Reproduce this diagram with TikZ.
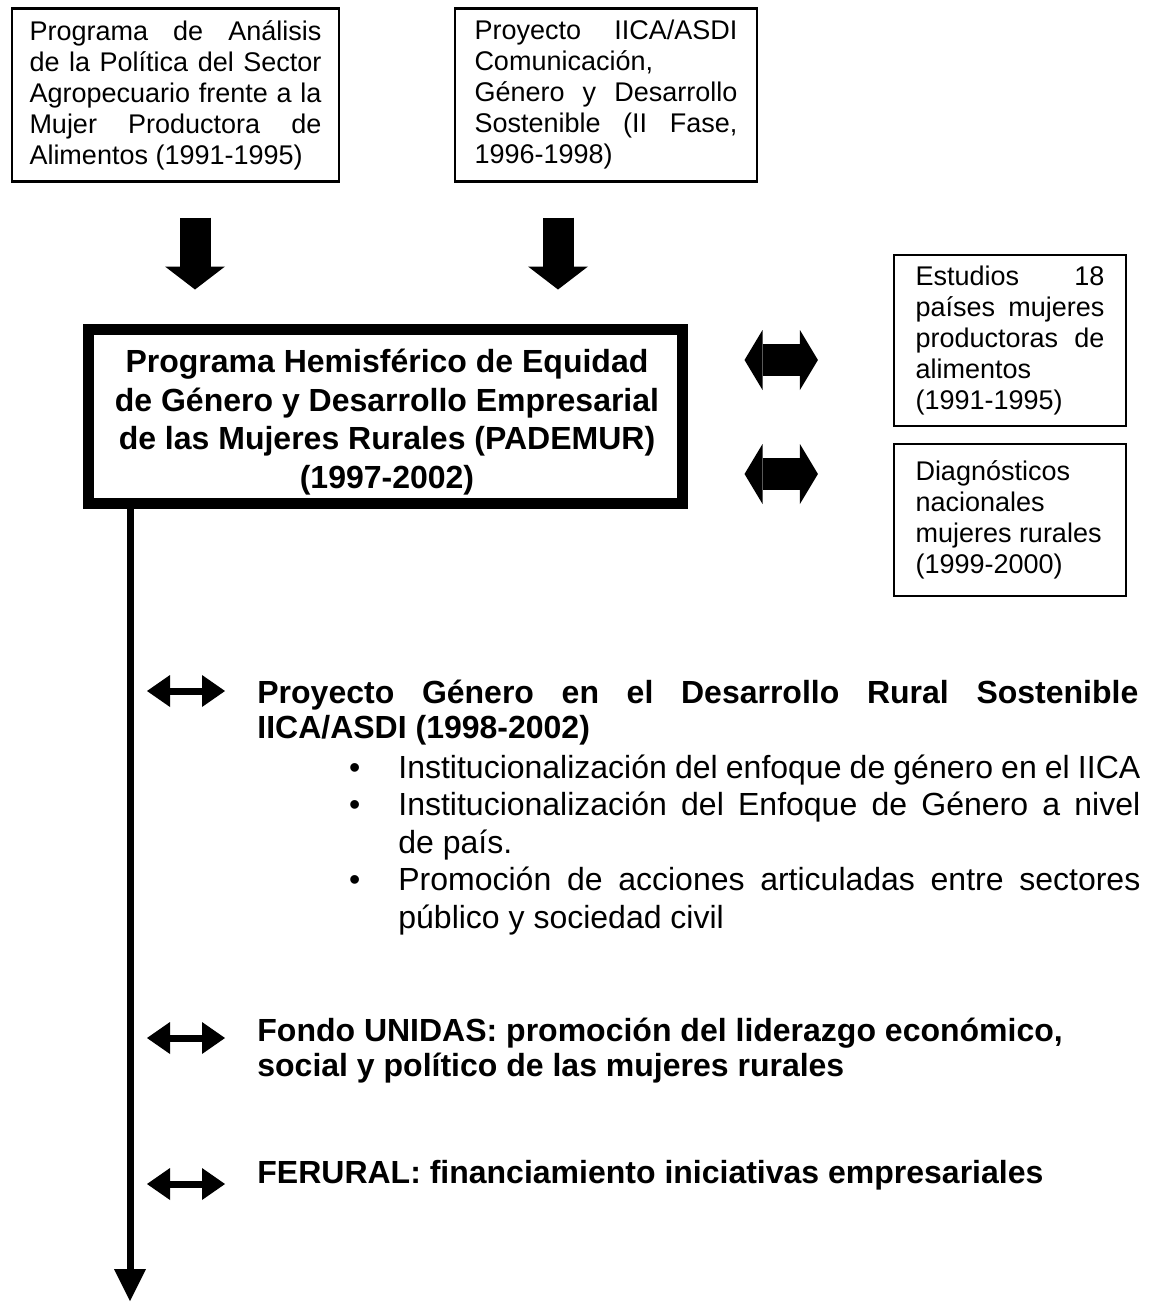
\documentclass[tikz,border=0pt]{standalone}
\usepackage{fontspec}
\setmainfont{Liberation Sans}
\usetikzlibrary{arrows.meta}

\begin{document}
\begin{tikzpicture}[x=0.5pt,y=0.5pt,yscale=-1,
		topbox/.style={draw, line width=1.1pt, inner sep=0pt, align=justify, font=\fontsize{13.5}{15.5}\selectfont},
		framebox/.style={draw, line width=5.5pt, inner sep=0pt, minimum width=297pt, minimum height=87pt},
		titletext/.style={inner sep=0pt, align=center, font=\fontsize{16}{19.25}\selectfont\bfseries},
		itemtext/.style={anchor=base west, inner sep=0pt, font=\fontsize{16}{17.5}\selectfont\bfseries},
		fatdown/.style={line width=15.5pt, -{Triangle[width=30pt,length=11.5pt,line width=0pt]}},
		fatboth/.style={line width=16pt, {Triangle[width=30pt,length=9pt,line width=0pt]}-{Triangle[width=30pt,length=9pt,line width=0pt]}},
		thinboth/.style={line width=3.5pt, {Triangle[width=16pt,length=11.5pt,line width=0pt]}-{Triangle[width=16pt,length=11.5pt,line width=0pt]}},
		trunk/.style={line width=3.5pt, -{Triangle[width=16pt,length=16pt,line width=0pt]}}]
		\useasboundingbox (0,0) rectangle (1153,1302);

		% The two boxes on top
		\node[topbox, minimum width=163.5pt, minimum height=86.5pt, text width=146pt] (analisis) at (175.5,95)
		{Programa de Análisis\linebreak de la Política del Sector\linebreak Agropecuario frente a la\linebreak Mujer Productora de\linebreak Alimentos (1991-1995)};
		\node[topbox, minimum width=151pt, minimum height=86.5pt, text width=131.5pt] (iica) at (606,95)
		{Proyecto IICA/ASDI\linebreak Comunicación,\\ Género y Desarrollo\linebreak Sostenible (II Fase,\linebreak 1996-1998)};

		% The main program box (thick frame) and its title
		\node[framebox] (pademur) at (385,416) {};
		\node[titletext] (pademurtxt) at (387,422)
		{Programa Hemisférico de Equidad\\ de Género y Desarrollo Empresarial\\ de las Mujeres Rurales (PADEMUR)\\ (1997-2002)};

		% The two boxes on the right
		\node[topbox, minimum width=116pt, minimum height=85.5pt, text width=94.5pt] (estudios) at (1010,340.5)
		{Estudios 18\linebreak países mujeres\linebreak productoras de\linebreak alimentos\\ (1991-1995)};
		\node[topbox, minimum width=116pt, minimum height=76pt, text width=94.5pt] (diagnos) at (1010,520)
		{Diagnósticos\\ nacionales\\ mujeres rurales\\ (1999-2000)};

		% The items along the line
		\node[itemtext, text width=440.5pt, align=justify] (genero) at (257,703)
		{Proyecto Género en el Desarrollo Rural Sostenible\linebreak IICA/ASDI (1998-2002)};
		\node[anchor=base west, inner sep=0pt, text width=371pt, align=justify, font=\fontsize{16}{18.75}\selectfont] (acciones) at (398,778)
		{\llap{\textbullet\hspace{19pt}}Institucionalización del enfoque de género en el IICA\\
		\llap{\textbullet\hspace{19pt}}Institucionalización del Enfoque de Género a nivel\linebreak de país.\\
		\llap{\textbullet\hspace{19pt}}Promoción de acciones articuladas entre sectores\linebreak público y sociedad civil};
		\node[itemtext, align=left] (unidas) at (257,1076)
		{Fondo UNIDAS: promoción del liderazgo económico,\\ social y político de las mujeres rurales};
		\node[itemtext, align=left] (ferural) at (257,1183)
		{FERURAL: financiamiento iniciativas empresariales};

		% Helper coordinates for the arrows
		\coordinate (leftcol) at (195,0);
		\coordinate (rightcol) at (558,0);
		\coordinate (rowA) at (0,360);
		\coordinate (rowB) at (0,474);
		\coordinate (rowC) at (0,691);
		\coordinate (rowD) at (0,1038);
		\coordinate (rowE) at (0,1184);
		\coordinate (trunkend) at (130,1301);

		% Fat arrows down into the main box
		\draw[fatdown, shorten <=17.5pt, shorten >=17pt] (analisis.south -| leftcol) -- (pademur.north -| leftcol);
		\draw[fatdown, shorten <=17.5pt, shorten >=17pt] (iica.south -| rightcol) -- (pademur.north -| rightcol);

		% Fat double arrows to the right boxes
		\draw[fatboth, shorten <=28.5pt, shorten >=37.5pt] (pademur.east |- rowA) -- (estudios.west |- rowA);
		\draw[fatboth, shorten <=28.5pt, shorten >=37.5pt] (pademur.east |- rowB) -- (diagnos.west |- rowB);

		% The long line down
		\draw[trunk] (pademur.south -| trunkend) -- (trunkend);

		% Small double arrows to the items
		\draw[thinboth, shorten <=8.5pt, shorten >=16pt] (trunkend |- rowC) -- (genero.west |- rowC);
		\draw[thinboth, shorten <=8.5pt, shorten >=16pt] (trunkend |- rowD) -- (unidas.west |- rowD);
		\draw[thinboth, shorten <=8.5pt, shorten >=16pt] (trunkend |- rowE) -- (ferural.west |- rowE);
	\end{tikzpicture}
\end{document}
